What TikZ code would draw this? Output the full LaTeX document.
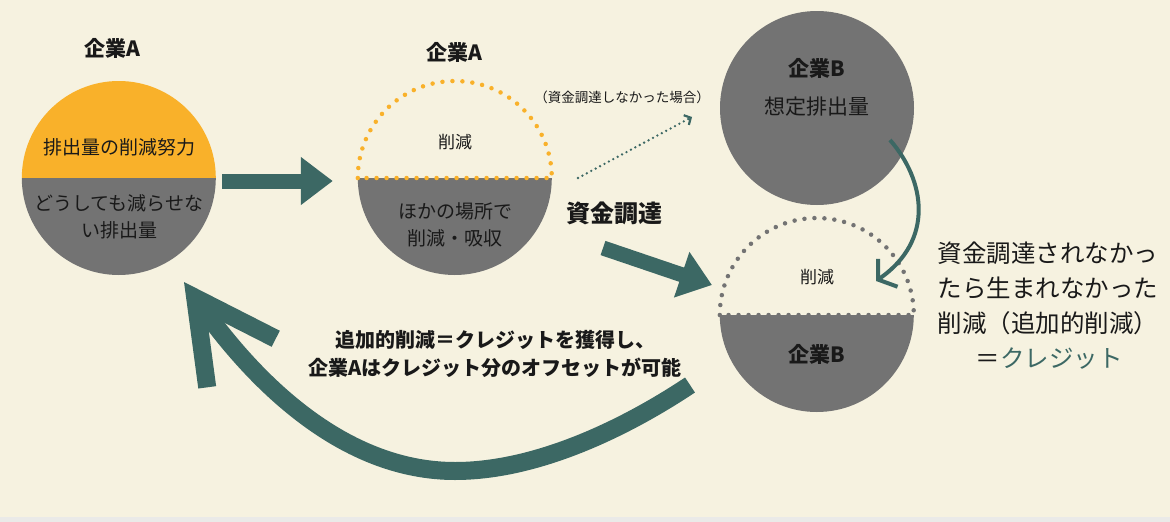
\documentclass[tikz,border=0pt]{standalone}
\usepackage{fontspec}
\setmainfont{Noto Sans CJK JP}
\usetikzlibrary{arrows.meta,calc}

\definecolor{bgcream}{RGB}{246,242,224}
\definecolor{stripgray}{RGB}{234,234,232}
\definecolor{mustard}{RGB}{249,177,42}
\definecolor{discgray}{RGB}{115,115,115}
\definecolor{pine}{RGB}{60,104,100}
\definecolor{ink}{RGB}{25,25,25}

\tikzset{
  disc/.style={circle, minimum size=194pt, inner sep=0pt},
  ttl/.style={text=ink, font=\fontsize{21}{25}\selectfont\bfseries},
  body/.style={text=ink, align=center, font=\fontsize{19}{27}\selectfont},
  dotline/.style={line width=4.5pt, line cap=round, dash pattern=on 0pt off 10pt},
  fatarrow/.style={pine, line width=15pt, -{Triangle[length=32pt,width=46pt]}},
}

\begin{document}
\begin{tikzpicture}[x=1pt, y=-1pt]
  \useasboundingbox (0,0) rectangle (1170,522);
  \fill[bgcream] (0,0) rectangle (1170,522);
  \fill[stripgray] (0,517) rectangle (1170,522);

  % parameters
  \def\r{97}   % disc radius

  % discs (centres only, drawn below)
  \node[disc] (A1) at (119,178) {};
  \node[disc] (A2) at (455,178) {};
  \node[disc] (B1) at (817,108) {};
  \node[disc] (B2) at (817,315) {};

  % company A, before
  \fill[mustard] (A1.west) arc (180:360:\r) -- cycle;
  \fill[discgray] (A1.west) arc (180:0:\r) -- cycle;

  % company A, after
  \fill[discgray] (A2.west) arc (180:0:\r) -- cycle;
  \draw[dotline, mustard] (A2.west) arc (180:360:\r) -- cycle;

  % company B
  \fill[discgray] (B1.center) circle (\r);
  \fill[discgray] (B2.west) arc (180:0:\r) -- cycle;
  \draw[dotline, discgray] (B2.west) arc (180:360:\r) -- cycle;

  % labels
  \node[ttl] (tA1) at (112,48) {企業A};
  \node[ttl] (tA2) at (454,52) {企業A};
  \node[ttl] (tB1) at (817,68) {企業B};
  \node[ttl] (tB2) at (817,354) {企業B};
  \node[body] (effort) at (119,147) {排出量の削減努力};
  \node[body] (rest) at (119,217) {どうしても減らせな\\い排出量};
  \node[body, font=\fontsize{17}{20}\selectfont] (cutA) at (455,142) {削減};
  \node[body] (offset) at (455,225) {ほかの場所で\\削減・吸収};
  \node[body, font=\fontsize{21}{25}\selectfont] (base) at (817,107) {想定排出量};
  \node[body, font=\fontsize{17}{20}\selectfont] (cutB) at (817,277) {削減};
  \node[text=ink, font=\fontsize{13.5}{16}\selectfont] (ifnot) at (622,97) {（資金調達しなかった場合）};
  \node[text=ink, font=\fontsize{24}{28}\selectfont\bfseries] (fund) at (614,213) {資金調達};
  \node[text=ink, align=center, font=\fontsize{20}{28}\selectfont\bfseries] (gain) at (495,354)
    {追加的削減＝クレジットを獲得し、\\企業Aはクレジット分のオフセットが可能};
  \node[text=ink, align=left, anchor=north west, font=\fontsize{24.5}{35}\selectfont] (credit) at (934,238)
    {資金調達されなかっ\\たら生まれなかった\\削減（追加的削減）\\\hspace*{38pt}＝{\color{pine}クレジット}};

  % arrow ends
  \coordinate (fundS) at (603,248);
  \coordinate (fundE) at (712,285);
  \coordinate (dotS) at (578,178);
  \coordinate (dotE) at (692,117);
  \coordinate (dropS) at (890,140);
  \coordinate (dropE) at (876,281);
  \coordinate (backS) at (690,385);
  \coordinate (backM) at (455,471);
  \coordinate (backE) at (184,282);

  % arrows
  \draw[fatarrow] ([xshift=6pt,yshift=-3pt]A1.east) -- ([xshift=-25pt,yshift=-3pt]A2.west);
  \draw[fatarrow] (fundS) -- (fundE);
  \draw[pine, line width=2.6pt, line cap=round, dash pattern=on 0pt off 5pt,
        -{Straight Barb[length=5pt,width=11pt,line width=2.2pt]}] (dotS) -- (dotE);
  \draw[pine, line width=4pt, -{Straight Barb[length=12pt,width=34pt]}]
    (dropS) .. controls (925,180) and (935,240) .. (dropE);
  \draw[pine, line width=18pt, -{Straight Barb[length=80pt,width=84pt]}]
    (backS) .. controls (630,425) and (540,471) .. (backM)
            .. controls (350,471) and (262,392) .. (backE);
\end{tikzpicture}
\end{document}
